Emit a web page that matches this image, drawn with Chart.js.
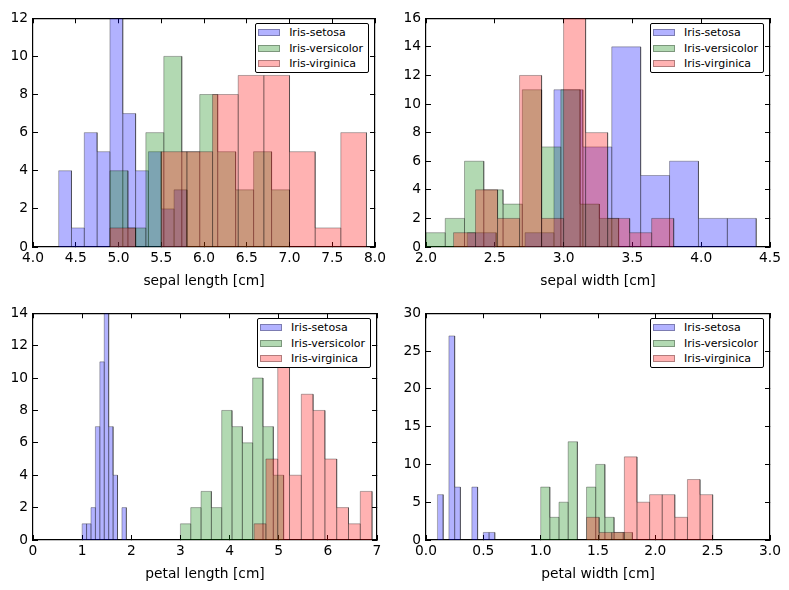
<!DOCTYPE html>
<html>
<head>
<meta charset="utf-8">
<script src="https://cdn.jsdelivr.net/npm/chart.js@4.4.1/dist/chart.umd.min.js"></script>
<style>
  body { margin: 0; background: #fff; }
  #page { position: relative; width: 789px; height: 590px; overflow: hidden; }
  .panel { position: absolute; }
  .panel canvas { display: block; }
  .legend-list {
    position: absolute; margin: 0; padding: 1px 5px 1px 2px; list-style: none;
    background: #fff; border: 1px solid #000; border-radius: 2px;
    font: 11px "DejaVu Sans", sans-serif; color: #000;
  }
  .legend-list li { height: 15.2px; display: flex; align-items: center; white-space: nowrap; }
  .legend-list span { display: inline-block; width: 20px; height: 5px; margin-right: 9px; border: 1px solid rgba(0, 0, 0, 0.3); }
</style>
</head>
<body>
<div id="page"></div>
<script>
const species = ['Iris-setosa', 'Iris-versicolor', 'Iris-virginica']
const speciesColors = ['rgba(0, 0, 255, 0.3)', 'rgba(0, 128, 0, 0.3)', 'rgba(255, 0, 0, 0.3)']

// each species gets 10 equal bins between its own min and max
const sepalLengthRanges = [[4.3, 5.8], [4.9, 7.0], [4.9, 7.9]]
const sepalLengthCounts = [
  [4, 1, 6, 5, 12, 7, 4, 5, 2, 3],
  [4, 1, 6, 10, 5, 8, 5, 3, 5, 3],
  [1, 0, 5, 5, 8, 9, 9, 5, 1, 6]
]

const sepalWidthRanges = [[2.3, 4.4], [2.0, 3.4], [2.2, 3.8]]
const sepalWidthCounts = [
  [1, 0, 1, 11, 7, 14, 5, 6, 2, 2],
  [1, 2, 6, 4, 3, 11, 7, 11, 3, 2],
  [1, 4, 2, 12, 2, 16, 8, 2, 1, 2]
]

const petalLengthRanges = [[1.0, 1.9], [3.0, 5.1], [4.5, 6.9]]
const petalLengthCounts = [
  [1, 1, 2, 7, 11, 14, 7, 4, 0, 2],
  [1, 2, 3, 2, 8, 7, 6, 10, 7, 4],
  [1, 5, 12, 4, 9, 8, 5, 2, 1, 3]
]

const petalWidthRanges = [[0.1, 0.6], [1.0, 1.8], [1.4, 2.5]]
const petalWidthCounts = [
  [6, 0, 27, 7, 0, 0, 7, 0, 1, 1],
  [7, 3, 5, 13, 0, 7, 10, 3, 1, 1],
  [3, 1, 1, 11, 5, 6, 6, 3, 8, 6]
]

// x: [min, max, step, decimals], y: [max, step]
const panels = [
  { title: 'sepal length [cm]', ranges: sepalLengthRanges, counts: sepalLengthCounts, x: [4, 8, 0.5, 1], y: [12, 2], box: [0, 0, 394, 295], area: [33, 17, 377, 247] },
  { title: 'sepal width [cm]', ranges: sepalWidthRanges, counts: sepalWidthCounts, x: [2, 4.5, 0.5, 1], y: [16, 2], box: [394, 0, 395, 295], area: [32, 17, 376, 247] },
  { title: 'petal length [cm]', ranges: petalLengthRanges, counts: petalLengthCounts, x: [0, 7, 1, 0], y: [14, 2], box: [0, 295, 394, 295], area: [33, 15, 377, 245] },
  { title: 'petal width [cm]', ranges: petalWidthRanges, counts: petalWidthCounts, x: [0, 3, 0.5, 1], y: [30, 5], box: [394, 295, 395, 295], area: [32, 15, 376, 245] }
]

Chart.defaults.font.family = '"DejaVu Sans", sans-serif'
Chart.defaults.color = '#000'

const tickFont = { size: 13.8 }
const xAxisHeight = 48

// outline of a histogram: one rectangle per bin, walked left to right
function histogramPoints (range, counts) {
  const width = (range[1] - range[0]) / counts.length
  const points = []
  counts.forEach((count, i) => {
    const x0 = range[0] + i * width
    const x1 = range[0] + (i + 1) * width
    points.push({ x: x0, y: 0 }, { x: x0, y: count }, { x: x1, y: count }, { x: x1, y: 0 })
  })
  return points
}

function axisLines () {
  return {
    grid: { drawOnChartArea: false, drawTicks: true, tickLength: -5, color: '#000', lineWidth: 1 },
    border: { display: true, color: '#000', width: 1.2 }
  }
}

function legendHtml (chart) {
  const text = ['<ul class="legend-list">']
  chart.data.datasets.forEach(dataset => {
    text.push('<li><span style="background-color:' + dataset.backgroundColor + '"></span>' + dataset.label + '</li>')
  })
  text.push('</ul>')
  return text.join('')
}

const page = document.getElementById('page')

panels.forEach(panel => {
  const [bx, by, bw, bh] = panel.box
  const [left, top, right, bottom] = panel.area
  const [xMin, xMax, xStep, xDigits] = panel.x
  const [yMax, yStep] = panel.y

  const holder = document.createElement('div')
  holder.className = 'panel'
  holder.style.left = bx + 'px'
  holder.style.top = by + 'px'
  holder.style.width = bw + 'px'
  holder.style.height = bh + 'px'
  const canvas = document.createElement('canvas')
  canvas.width = bw
  canvas.height = bh
  holder.appendChild(canvas)
  page.appendChild(holder)

  const datasets = species.map((name, i) => ({
    label: name,
    data: histogramPoints(panel.ranges[i], panel.counts[i]),
    backgroundColor: speciesColors[i],
    borderColor: 'rgba(0, 0, 0, 0.3)',
    borderWidth: 1,
    fill: 'origin',
    pointRadius: 0,
    tension: 0,
    order: species.length - 1 - i
  }))

  const chart = new Chart(canvas, {
    type: 'line',
    data: { datasets },
    options: {
      responsive: false,
      animation: false,
      events: [],
      layout: { padding: { left: 0, top: top, right: bw - right, bottom: bh - bottom - xAxisHeight } },
      plugins: { legend: { display: false }, tooltip: { enabled: false } },
      scales: {
        x: {
          type: 'linear', position: 'bottom', min: xMin, max: xMax,
          ticks: { stepSize: xStep, autoSkip: false, maxRotation: 0, padding: 8, font: tickFont, callback: v => v.toFixed(xDigits) },
          title: { display: true, text: panel.title, font: { size: 13.8 }, padding: { top: 0, bottom: 5.5 } },
          afterFit: scale => { scale.height = xAxisHeight },
          ...axisLines()
        },
        xTop: {
          type: 'linear', position: 'top', min: xMin, max: xMax,
          ticks: { stepSize: xStep, display: false },
          afterFit: scale => { scale.height = 0 },
          ...axisLines()
        },
        y: {
          type: 'linear', position: 'left', min: 0, max: yMax,
          ticks: { stepSize: yStep, padding: 10, font: tickFont },
          afterFit: scale => { scale.width = left },
          ...axisLines()
        },
        yRight: {
          type: 'linear', position: 'right', min: 0, max: yMax,
          ticks: { stepSize: yStep, display: false },
          afterFit: scale => { scale.width = 0 },
          ...axisLines()
        }
      }
    }
  })

  holder.insertAdjacentHTML('beforeend', legendHtml(chart))
  const legend = holder.querySelector('.legend-list')
  legend.style.right = (bw - chart.chartArea.right + 6) + 'px'
  legend.style.top = (chart.chartArea.top + 5) + 'px'
})
</script>
</body>
</html>
